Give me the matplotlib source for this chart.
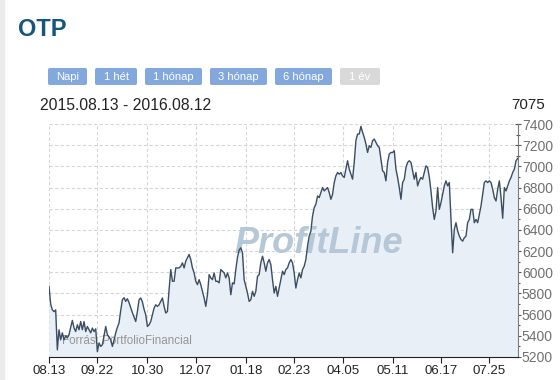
import matplotlib
matplotlib.use("Agg")
import matplotlib.pyplot as plt
from matplotlib.patches import FancyBboxPatch, Rectangle
from matplotlib.ticker import MultipleLocator

plt.rcParams["font.family"] = ["Liberation Sans", "DejaVu Sans"]

# OTP closing prices, 2015.08.13 - 2016.08.12
close = [
    5867, 5700, 5645, 5628, 5645, 5267, 5457, 5362, 5428, 5362, 5400, 5380, 5410, 5480, 5545, 5475,
    5440, 5504, 5457, 5535, 5457, 5535, 5440, 5488, 5457, 5428, 5473, 5440, 5466, 5250, 5333,
    5300, 5315, 5400, 5488, 5410, 5390, 5362, 5300, 5360, 5428, 5480, 5523, 5640, 5741, 5760,
    5725, 5750, 5713, 5665, 5618, 5575, 5535, 5630, 5741, 5757, 5720, 5650, 5599, 5488, 5504,
    5535, 5600, 5662, 5693, 5678, 5693, 5725, 5757, 5678, 5615, 5630, 5836, 6026, 5915, 5915,
    6041, 6041, 6041, 6057, 6089, 6041, 6105, 6136, 6168, 6120, 6041, 5994, 5915, 5883, 5930,
    5883, 5820, 5757, 5678, 5788, 5978, 5947, 5930, 5994, 5915, 5915, 5900, 6026, 6010, 5994,
    5947, 5994, 5947, 5788, 5900, 5890, 6026, 6140, 6210, 6231, 6184, 5930, 5867, 5804, 5725,
    5741, 5820, 5773, 5820, 5962, 5978, 6089, 6152, 6089, 6010, 6089, 6120, 6073, 5930, 5804,
    5867, 5773, 5851, 5930, 6010, 5978, 6026, 6041, 6089, 6120, 6089, 5994, 5851, 5930, 5994,
    5947, 6026, 6057, 6120, 6247, 6342, 6389, 6531, 6610, 6642, 6721, 6705, 6752, 6800, 6768,
    6784, 6800, 6752, 6689, 6736, 6847, 6910, 6942, 6926, 6942, 6910, 6895, 6974, 7053, 6974,
    6926, 6879, 7037, 7242, 7305, 7305, 7378, 7321, 7274, 7210, 7131, 7195, 7179, 7242, 7258,
    7226, 7195, 7179, 7068, 6958, 6942, 6863, 7037, 7116, 7131, 7131, 7147, 6974, 6895, 6800,
    6689, 6847, 6879, 6989, 7037, 7053, 7037, 6958, 6879, 6942, 6816, 6863, 6895, 6879, 6940,
    7005, 6989, 6900, 6768, 6610, 6499, 6579, 6800, 6594, 6657, 6736, 6816, 6863, 6816, 6847,
    6499, 6184, 6405, 6468, 6389, 6342, 6310, 6294, 6326, 6342, 6468, 6499, 6594, 6594, 6468,
    6499, 6468, 6547, 6626, 6736, 6847, 6863, 6847, 6863, 6847, 6784, 6705, 6673, 6784, 6863,
    6705, 6510, 6800, 6768, 6816, 6863, 6895, 6942, 6974, 7053, 7075,
]
tick_pos = [0, 29, 59, 88, 118, 147, 176, 206, 235, 264]
tick_labels = ["08.13", "09.22", "10.30", "12.07", "01.18", "02.23", "04.05", "05.11", "06.17", "07.25"]
buttons = ["Napi", "1 hét", "1 hónap", "3 hónap", "6 hónap", "1 év"]
date_range = "2015.08.13 - 2016.08.12"
last_price = "7075"

W, H = 560, 380
fig = plt.figure(figsize=(W / 100, H / 100), dpi=100)
fig.patch.set_facecolor("white")

def fx(px):
    return px / W

def fy(py):
    return 1 - py / H

# grey strip at the left edge of the page
fig.patches.append(Rectangle((0, 0), fx(4), 1, transform=fig.transFigure,
                             color="#ebebeb", zorder=0))

fig.text(fx(18), fy(29), "OTP", fontsize=17, fontweight="bold", color="#15557f",
         va="center", ha="left")

# period buttons
btn_x = [(48, 87), (95, 137), (145, 202), (210, 267), (275, 332), (340, 380)]
for (x0, x1), label in zip(btn_x, buttons):
    active = label != "1 év"
    face = "#82a8de" if active else "#d9d9d9"
    fig.patches.append(FancyBboxPatch(
        (fx(x0), fy(85)), fx(x1 - x0), (85 - 68) / H,
        boxstyle="round,pad=0,rounding_size=0.004", transform=fig.transFigure,
        facecolor=face, edgecolor="none"))
    fig.text(fx((x0 + x1) / 2), fy(76.5), label, fontsize=8, color="white",
             ha="center", va="center")

fig.text(fx(40), fy(105), date_range, fontsize=11.3, color="#222222",
         ha="left", va="center")
fig.text(fx(545), fy(105), last_price, fontsize=11, color="#222222",
         ha="right", va="center")

ax = fig.add_axes([fx(49), fy(357), fx(517.7 - 49), (357 - 124) / H])
x = list(range(len(close)))
ax.fill_between(x, close, 5200, color="#e8eff7", zorder=1, lw=0)
ax.plot(x, close, color="#3b4d60", lw=1.0, zorder=4)

ax.set_xlim(0, len(close) - 1)
ax.set_ylim(5200, 7400)
ax.set_xticks(tick_pos)
ax.set_xticklabels(tick_labels)
ax.yaxis.tick_right()
ax.yaxis.set_major_locator(MultipleLocator(200))
ax.yaxis.set_minor_locator(MultipleLocator(100))
ax.grid(True, which="major", color="#d6d6d6", linestyle=(0, (3, 2)), lw=0.8, zorder=0)
ax.set_axisbelow(True)

for side in ("left", "top"):
    ax.spines[side].set_visible(False)
ax.spines["right"].set_color("#7a7a7a")
ax.spines["bottom"].set_color("#222222")
ax.tick_params(axis="x", length=4, width=0.8, color="#222222", labelsize=9.5,
               labelcolor="#222222", pad=2)
ax.tick_params(axis="y", which="major", length=4, width=0.8, color="#555555",
               direction="inout", labelsize=10, labelcolor="#707070", pad=1)
ax.tick_params(axis="y", which="minor", length=2.5, width=0.8, color="#555555",
               direction="inout")

ax.text(0.576, 0.489, "ProfitLine", transform=ax.transAxes, fontsize=26,
        fontweight="bold", style="italic", color="#b6c8d8", ha="center",
        va="center", zorder=2)
ax.text(fx(62 - 49) / fx(517.7 - 49), 0.07, "Forrás: PortfolioFinancial",
        transform=ax.transAxes, fontsize=8.4, color="#959595", ha="left",
        va="center", zorder=3)

fig.savefig("out.png", dpi=100)
